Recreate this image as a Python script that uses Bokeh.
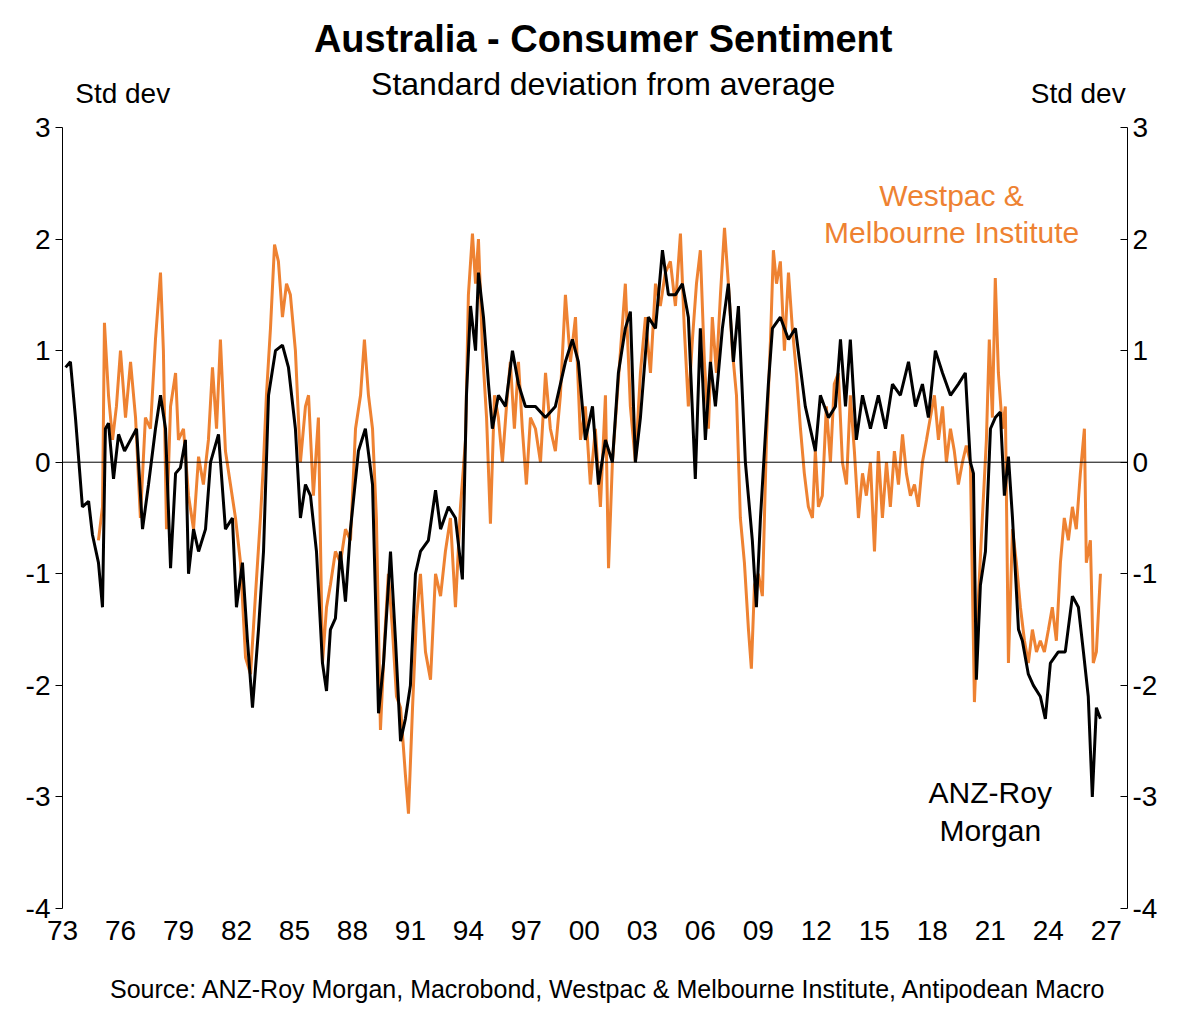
from bokeh.plotting import figure
from bokeh.models import Range1d, LinearAxis, Span, FixedTicker
from bokeh.layouts import column
from bokeh.core.properties import value
from bokeh.embed import file_html
from bokeh.resources import INLINE

# years stored as offset from 1900
anz_yr = [73.16,73.41,73.67,74.03,74.35,74.55,74.86,75.07,75.22,75.38,75.64,75.90,76.21,76.52,76.83,77.14,77.45,77.81,78.07,78.33,78.59,78.85,79.10,79.36,79.52,79.78,80.04,80.40,80.66,81.07,81.43,81.79,82.00,82.31,82.57,82.83,83.14,83.40,83.66,84.02,84.38,84.69,85.05,85.31,85.57,85.83,86.14,86.45,86.66,86.86,87.12,87.38,87.64,87.90,88.31,88.67,89.04,89.35,89.61,89.97,90.23,90.49,90.74,91.00,91.26,91.52,91.93,92.30,92.56,92.97,93.33,93.69,93.90,94.11,94.37,94.52,94.78,95.04,95.24,95.55,95.92,96.28,96.59,96.95,97.47,97.99,98.50,99.02,99.38,99.69,100.05,100.42,100.73,101.09,101.45,101.76,102.12,102.38,102.64,102.90,103.31,103.68,104.04,104.35,104.71,105.07,105.38,105.74,106.00,106.26,106.52,106.78,107.14,107.45,107.71,107.97,108.33,108.69,108.90,109.11,109.52,109.73,110.14,110.56,110.92,111.43,111.95,112.21,112.63,112.99,113.25,113.51,113.76,114.07,114.39,114.80,115.21,115.58,115.94,116.35,116.77,117.13,117.49,117.80,118.16,118.53,118.94,119.35,119.71,119.97,120.13,120.28,120.49,120.75,121.01,121.26,121.52,121.73,121.94,122.15,122.46,122.66,122.97,123.23,123.59,123.85,124.11,124.52,124.88,125.25,125.56,125.82,126.07,126.28,126.49,126.70]
anz_val = [0.85,0.9,0.4,-0.4,-0.35,-0.65,-0.9,-1.3,0.3,0.35,-0.15,0.25,0.1,0.2,0.3,-0.6,-0.2,0.3,0.6,0.3,-0.95,-0.1,-0.05,0.2,-1.0,-0.6,-0.8,-0.6,0.0,0.25,-0.6,-0.5,-1.3,-0.9,-1.6,-2.2,-1.5,-0.8,0.6,1.0,1.05,0.85,0.3,-0.5,-0.2,-0.3,-0.8,-1.8,-2.05,-1.5,-1.4,-0.8,-1.25,-0.6,0.1,0.3,-0.2,-2.25,-1.8,-0.8,-1.6,-2.5,-2.3,-2.0,-1.0,-0.8,-0.7,-0.25,-0.6,-0.4,-0.5,-1.05,0.6,1.4,1.0,1.7,1.3,0.7,0.3,0.6,0.5,1.0,0.7,0.5,0.5,0.4,0.5,0.9,1.1,0.9,0.2,0.5,-0.2,0.2,0.0,0.8,1.2,1.35,0.0,0.4,1.3,1.2,1.9,1.5,1.5,1.6,1.3,-0.15,1.2,0.2,0.9,0.5,1.2,1.6,0.9,1.4,0.0,-0.7,-1.3,-0.5,0.7,1.2,1.3,1.1,1.2,0.5,0.1,0.6,0.4,0.5,1.1,0.5,1.1,0.2,0.6,0.3,0.6,0.3,0.7,0.6,0.9,0.5,0.7,0.4,1.0,0.8,0.6,0.7,0.8,0.0,-0.1,-1.95,-1.1,-0.8,0.3,0.4,0.45,-0.3,0.05,-0.5,-1.5,-1.6,-1.9,-2.0,-2.1,-2.3,-1.8,-1.7,-1.7,-1.2,-1.3,-1.7,-2.1,-3.0,-2.2,-2.3]

wmi_yr = [74.86,75.07,75.17,75.38,75.59,75.79,76.00,76.26,76.52,76.78,77.03,77.29,77.55,77.81,78.07,78.22,78.38,78.59,78.85,79.00,79.26,79.52,79.78,80.04,80.29,80.55,80.76,80.97,81.17,81.43,81.69,81.95,82.21,82.47,82.73,82.98,83.24,83.40,83.55,83.76,83.97,84.17,84.38,84.59,84.79,85.05,85.31,85.57,85.73,85.98,86.24,86.45,86.66,86.86,87.12,87.38,87.64,87.90,88.16,88.42,88.62,88.83,89.04,89.24,89.45,89.66,89.86,90.07,90.28,90.49,90.74,90.90,91.11,91.31,91.52,91.78,92.04,92.30,92.56,92.81,93.07,93.33,93.59,93.85,94.00,94.21,94.37,94.52,94.73,94.94,95.14,95.35,95.55,95.76,95.97,96.17,96.38,96.59,96.79,97.00,97.21,97.47,97.73,97.99,98.24,98.50,98.76,99.02,99.28,99.54,99.80,100.05,100.31,100.57,100.83,101.09,101.25,101.45,101.66,101.87,102.12,102.38,102.64,102.90,103.16,103.42,103.68,103.93,104.19,104.45,104.71,104.97,105.17,105.38,105.59,105.80,106.00,106.21,106.42,106.62,106.83,107.04,107.25,107.45,107.66,107.87,108.07,108.28,108.49,108.64,108.80,109.00,109.21,109.42,109.63,109.78,109.94,110.14,110.35,110.56,110.76,110.97,111.18,111.38,111.59,111.80,111.95,112.11,112.31,112.52,112.73,112.93,113.14,113.35,113.56,113.76,113.97,114.18,114.39,114.59,114.80,115.01,115.21,115.42,115.63,115.83,116.04,116.25,116.46,116.66,116.87,117.08,117.28,117.49,117.70,117.90,118.11,118.32,118.53,118.73,118.94,119.14,119.35,119.56,119.76,119.97,120.18,120.39,120.59,120.80,120.95,121.11,121.26,121.42,121.63,121.78,121.94,122.15,122.35,122.56,122.77,122.97,123.18,123.39,123.59,123.80,124.01,124.21,124.42,124.63,124.83,125.04,125.25,125.45,125.66,125.87,125.97,126.18,126.33,126.49,126.70]
wmi_val = [-0.7,-0.4,1.25,0.6,0.2,0.5,1.0,0.4,0.9,0.4,-0.5,0.4,0.3,1.1,1.7,1.0,-0.6,0.5,0.8,0.2,0.3,-0.3,-0.6,0.05,-0.2,0.2,0.85,0.3,1.1,0.1,-0.2,-0.5,-0.9,-1.75,-1.9,-1.2,-0.5,0.0,0.6,1.2,1.95,1.8,1.3,1.6,1.5,1.0,0.0,0.5,0.6,-0.3,0.4,-1.8,-1.3,-1.1,-0.8,-0.9,-0.6,-0.7,0.3,0.6,1.1,0.6,0.3,-0.5,-2.4,-1.6,-1.0,-1.5,-2.1,-2.2,-2.8,-3.15,-2.2,-1.4,-1.0,-1.7,-1.95,-1.0,-1.2,-0.8,-0.5,-1.3,-0.4,0.2,1.5,2.05,1.6,2.0,1.0,0.4,-0.55,0.6,0.4,0.0,0.5,0.9,0.3,0.9,0.3,-0.2,0.4,0.3,0.0,0.8,0.3,0.1,0.6,1.5,0.9,1.3,0.2,0.5,-0.2,0.3,-0.4,0.6,-0.95,0.0,0.5,1.0,1.6,0.5,0.0,0.8,1.3,0.8,1.6,1.4,1.7,1.8,1.4,2.05,1.2,0.5,1.1,1.6,1.9,0.9,0.3,1.3,0.8,1.5,2.1,1.6,1.0,0.6,-0.5,-0.9,-1.5,-1.85,-1.1,-1.0,-1.2,0.2,1.1,1.9,1.6,1.8,1.0,1.7,1.2,0.8,0.3,-0.1,-0.4,-0.5,0.1,-0.4,-0.3,0.5,0.0,0.7,0.8,0.0,-0.2,0.6,0.1,-0.5,-0.1,-0.3,0.0,-0.8,0.1,-0.5,0.0,-0.4,0.1,-0.2,0.25,-0.1,-0.3,-0.2,-0.4,0.0,0.2,0.4,0.6,0.2,0.5,0.0,0.3,0.1,-0.2,0.0,0.15,0.0,-2.15,-1.2,-0.5,0.2,1.1,0.4,1.65,0.8,0.3,0.5,-1.8,-0.6,-0.9,-1.3,-1.6,-1.8,-1.5,-1.7,-1.6,-1.7,-1.5,-1.3,-1.6,-0.9,-0.5,-0.7,-0.4,-0.6,-0.1,0.3,-0.9,-0.7,-1.8,-1.7,-1.0]

x_ticks = list(range(1973, 2028, 3))
x_tick_labels = {t: f"{t % 100:02d}" for t in x_ticks}
y_ticks = [-4, -3, -2, -1, 0, 1, 2, 3]
y_tick_labels = {t: str(t) for t in y_ticks}

ORANGE = "#EE8232"
FONT = "Liberation Sans"
W = 1170

def text_fig(h):
    f = figure(width=W, height=h, output_backend="svg", toolbar_location=None,
               x_range=Range1d(0, W), y_range=Range1d(h, 0),
               min_border=0, outline_line_color=None)
    f.axis.visible = False
    f.grid.visible = False
    return f

def txt(f, x, y, t, size, align="center", color="black", bold=False):
    f.text(x=[x], y=[y], text=[t], text_font=value(FONT), text_font_size=size,
           text_align=align, text_baseline="middle", text_color=color,
           text_font_style="bold" if bold else "normal")

top = text_fig(107)
txt(top, 594, 38, "Australia - Consumer Sentiment", "38px", bold=True)
txt(top, 594, 83, "Standard deviation from average", "32px")
txt(top, 14, 93, "Std dev", "28px", align="left")
txt(top, 1168, 93, "Std dev", "28px", align="right")

p = figure(width=W, height=846, output_backend="svg", toolbar_location=None,
           x_range=Range1d(1973, 2028.1), y_range=Range1d(-4, 3),
           min_border_left=62, min_border_right=43, min_border_top=20, min_border_bottom=45)
p.outline_line_color = None
p.xgrid.visible = False
p.ygrid.visible = False

p.line([1900 + v for v in wmi_yr], wmi_val, color=ORANGE, line_width=3)
p.line([1900 + v for v in anz_yr], anz_val, color="black", line_width=3)
p.add_layout(Span(location=0, dimension="width", line_color="black", line_width=1))

p.xaxis.ticker = FixedTicker(ticks=x_ticks)
p.xaxis.major_label_overrides = x_tick_labels
p.yaxis.ticker = FixedTicker(ticks=y_ticks)
p.yaxis.major_label_overrides = y_tick_labels
ax_r = LinearAxis(ticker=FixedTicker(ticks=y_ticks), major_label_overrides=y_tick_labels)
p.add_layout(ax_r, "right")
for ax in p.axis:
    ax.major_label_text_font = FONT
    ax.major_label_text_font_size = "28px"
    ax.major_label_text_color = "black"
    ax.axis_line_color = "black"
    ax.major_tick_line_color = "black"
    ax.minor_tick_line_color = None
    ax.major_tick_in = 0
    ax.major_tick_out = 7
p.xaxis.major_tick_line_color = None
p.xaxis.axis_line_color = None
ax_r.major_tick_in = 7
ax_r.major_tick_out = 0

p.text(x=[2019.0, 2019.0], y=[2.39, 2.06], text=["Westpac &", "Melbourne Institute"],
       text_font=value(FONT), text_font_size="30px", text_align="center",
       text_baseline="middle", text_color=ORANGE)
p.text(x=[2021.0, 2021.0], y=[-2.96, -3.30], text=["ANZ-Roy", "Morgan"],
       text_font=value(FONT), text_font_size="30px", text_align="center",
       text_baseline="middle", text_color="black")

bottom = text_fig(50)
txt(bottom, 600, 35, "Source: ANZ-Roy Morgan, Macrobond, Westpac & Melbourne Institute, Antipodean Macro", "25px")

layout = column(top, p, bottom, spacing=0)
open("out.html", "w").write(file_html(layout, INLINE))
